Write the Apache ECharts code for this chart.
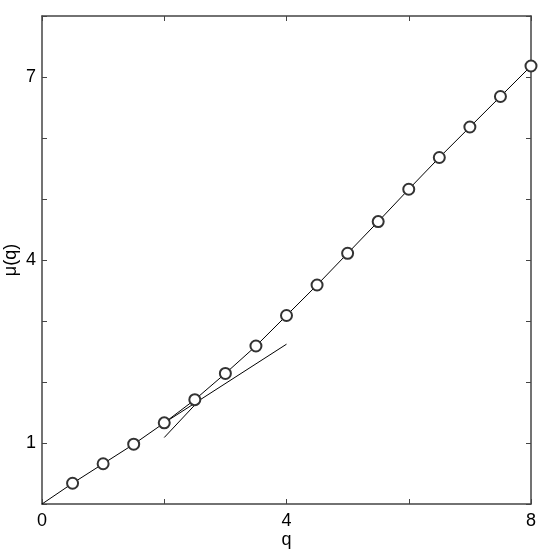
<!DOCTYPE html>
<html>
<head>
<meta charset="utf-8">
<script src="https://cdn.jsdelivr.net/npm/echarts@6/dist/echarts.min.js"></script>
<style>
  html, body { margin: 0; padding: 0; background: #fff; }
  #main { width: 545px; height: 553px; }
</style>
</head>
<body>
<div id="main"></div>
<script>
// measured points mu(q)
var qValues = [0, 0.5, 1, 1.5, 2, 2.5, 3, 3.5, 4, 4.5, 5, 5.5, 6, 6.5, 7, 7.5, 8];
var muValues = [0, 0.34, 0.66, 0.98, 1.33, 1.71, 2.14, 2.59, 3.09, 3.59, 4.11, 4.63, 5.16, 5.68, 6.18, 6.68, 7.18];

// the two straight fits that cross near q = 2.5
var lowFitQ = [2, 4];
var lowFitMu = [1.33, 2.62];
var highFitQ = [2, 2.6];
var highFitMu = [1.09, 1.73];

var xLabels = [0, 4, 8];
var yLabels = [1, 4, 7];

var fontFam = 'Liberation Sans, Arial, sans-serif';

function pairs(xs, ys) {
  return xs.map(function (x, i) { return [x, ys[i]]; });
}

var mainData = pairs(qValues, muValues).map(function (p, i) {
  // no circle at the origin
  return i === 0 ? { value: p, symbol: 'none' } : p;
});

var frame = { show: true, onZero: false, lineStyle: { color: '#444', width: 1.5 } };
var ticks = { show: true, inside: true, length: 5, lineStyle: { color: '#444', width: 1 } };

var myChart = echarts.init(document.getElementById('main'));
myChart.setOption({
  animation: false,
  backgroundColor: '#fff',
  grid: { left: 42, right: 14, top: 16, bottom: 49, containLabel: false, outerBoundsMode: 'none' },
  xAxis: [{
    type: 'value', min: 0, max: 8, interval: 2,
    name: 'q', nameLocation: 'middle', nameGap: 27, nameMoveOverlap: false,
    nameTextStyle: { color: '#000', fontSize: 18, fontFamily: fontFam },
    axisLine: frame, axisTick: ticks, splitLine: { show: false },
    axisLabel: {
      color: '#000', fontSize: 18, fontFamily: fontFam, margin: 8,
      formatter: function (v) { return xLabels.indexOf(v) >= 0 ? String(v) : ''; }
    }
  }, {
    type: 'value', min: 0, max: 8, interval: 2, position: 'top',
    axisLine: frame, axisTick: ticks, splitLine: { show: false },
    axisLabel: { show: false }
  }],
  yAxis: [{
    type: 'value', min: 0, max: 8, interval: 1,
    name: 'μ(q)', nameLocation: 'middle', nameGap: 22, nameMoveOverlap: false,
    nameTextStyle: { color: '#000', fontSize: 18, fontFamily: fontFam },
    axisLine: frame, axisTick: ticks, splitLine: { show: false },
    axisLabel: {
      color: '#000', fontSize: 18, fontFamily: fontFam, margin: 6,
      formatter: function (v) { return yLabels.indexOf(v) >= 0 ? String(v) : ''; }
    }
  }, {
    type: 'value', min: 0, max: 8, interval: 1, position: 'right',
    axisLine: frame, axisTick: ticks, splitLine: { show: false },
    axisLabel: { show: false }
  }],
  series: [{
    type: 'line',
    data: mainData,
    symbol: 'emptyCircle',
    symbolSize: 11,
    lineStyle: { color: '#000', width: 1 },
    itemStyle: { color: '#333', borderColor: '#333', borderWidth: 0.8 },
    z: 3
  }, {
    type: 'line',
    data: pairs(lowFitQ, lowFitMu),
    symbol: 'none',
    lineStyle: { color: '#000', width: 1 }
  }, {
    type: 'line',
    data: pairs(highFitQ, highFitMu),
    symbol: 'none',
    lineStyle: { color: '#000', width: 1 }
  }]
});
</script>
</body>
</html>
